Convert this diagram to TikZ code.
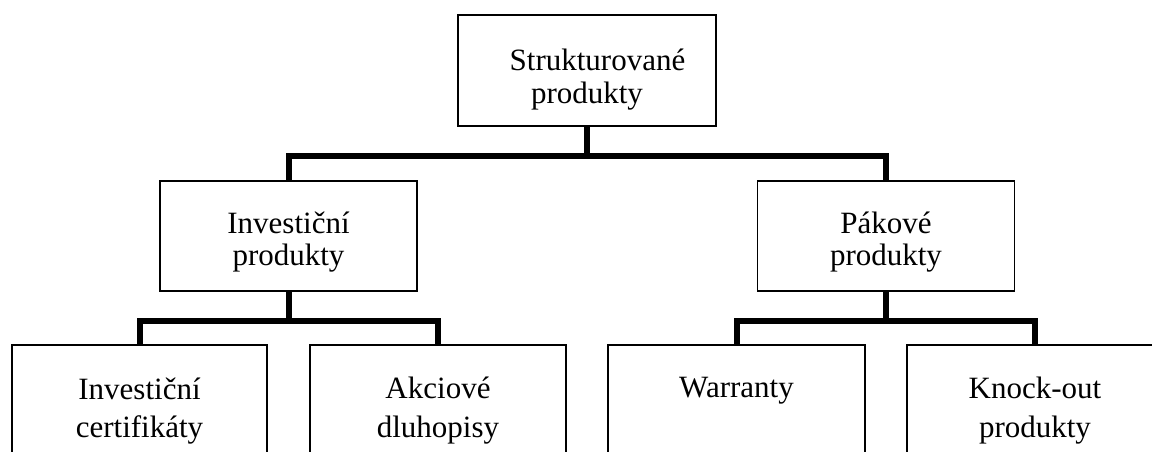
\documentclass[tikz,border=0pt]{standalone}
\usepackage{fontspec}
\setmainfont{Liberation Serif}
\begin{document}
\begin{tikzpicture}[x=1pt,y=-1pt,
  box/.style={draw=black,line width=1.2pt,rectangle,inner sep=0pt,fill=white},
  topbox/.style={box,minimum width=258pt,minimum height=111pt},
  midbox/.style={box,minimum width=257pt,minimum height=110pt},
  leafbox/.style={box,minimum width=255pt,minimum height=150pt},
  label/.style={anchor=base,inner sep=0pt,font=\fontsize{31}{31}\selectfont},
  conn/.style={draw=black,line width=6pt,line join=miter}]
\useasboundingbox (0,0) rectangle (1152,451);
\clip (0,0) rectangle (1152,451);

% boxes
\node[topbox]  (root) at (587,70.5) {};
\node[midbox]  (inv)  at (288.5,236) {};
\node[midbox]  (pak)  at (886,236) {};
\node[leafbox,minimum width=255pt] (ic)  at (139.5,420) {};
\node[leafbox,minimum width=256pt] (ad)  at (438,420) {};
\node[leafbox,minimum width=257pt] (war) at (736.5,420) {};
\node[leafbox,minimum width=256pt] (ko)  at (1035,420) {};

% bus junctions
\coordinate (bus1) at (587,156);
\coordinate (bus2) at (288.5,321);
\coordinate (bus3) at (886,321);

% connectors
\draw[conn] (root.south) -- (bus1);
\draw[conn] (inv.north) |- (bus1) -| (pak.north);
\draw[conn] (inv.south) -- (bus2);
\draw[conn] (ic.north) |- (bus2) -| (ad.north);
\draw[conn] (pak.south) -- (bus3);
\draw[conn] (war.north) |- (bus3) -| (ko.north);

% texts
\node[label] (rootA) at (597.5,70) {Strukturované};
\node[label] (rootB) at (587,103) {produkty};
\node[label] (invA) at (288.5,233) {Investiční};
\node[label] (invB) at (288.5,265) {produkty};
\node[label] (pakA) at (886,233) {Pákové};
\node[label] (pakB) at (886,265) {produkty};
\node[label] (icA) at (139.5,399) {Investiční};
\node[label] (icB) at (139.5,437) {certifikáty};
\node[label] (adA) at (438,398) {Akciové};
\node[label] (adB) at (438,437) {dluhopisy};
\node[label] (warA) at (736.5,397) {Warranty};
\node[label] (koA) at (1035,398) {Knock-out};
\node[label] (koB) at (1035,437) {produkty};
\end{tikzpicture}
\end{document}
